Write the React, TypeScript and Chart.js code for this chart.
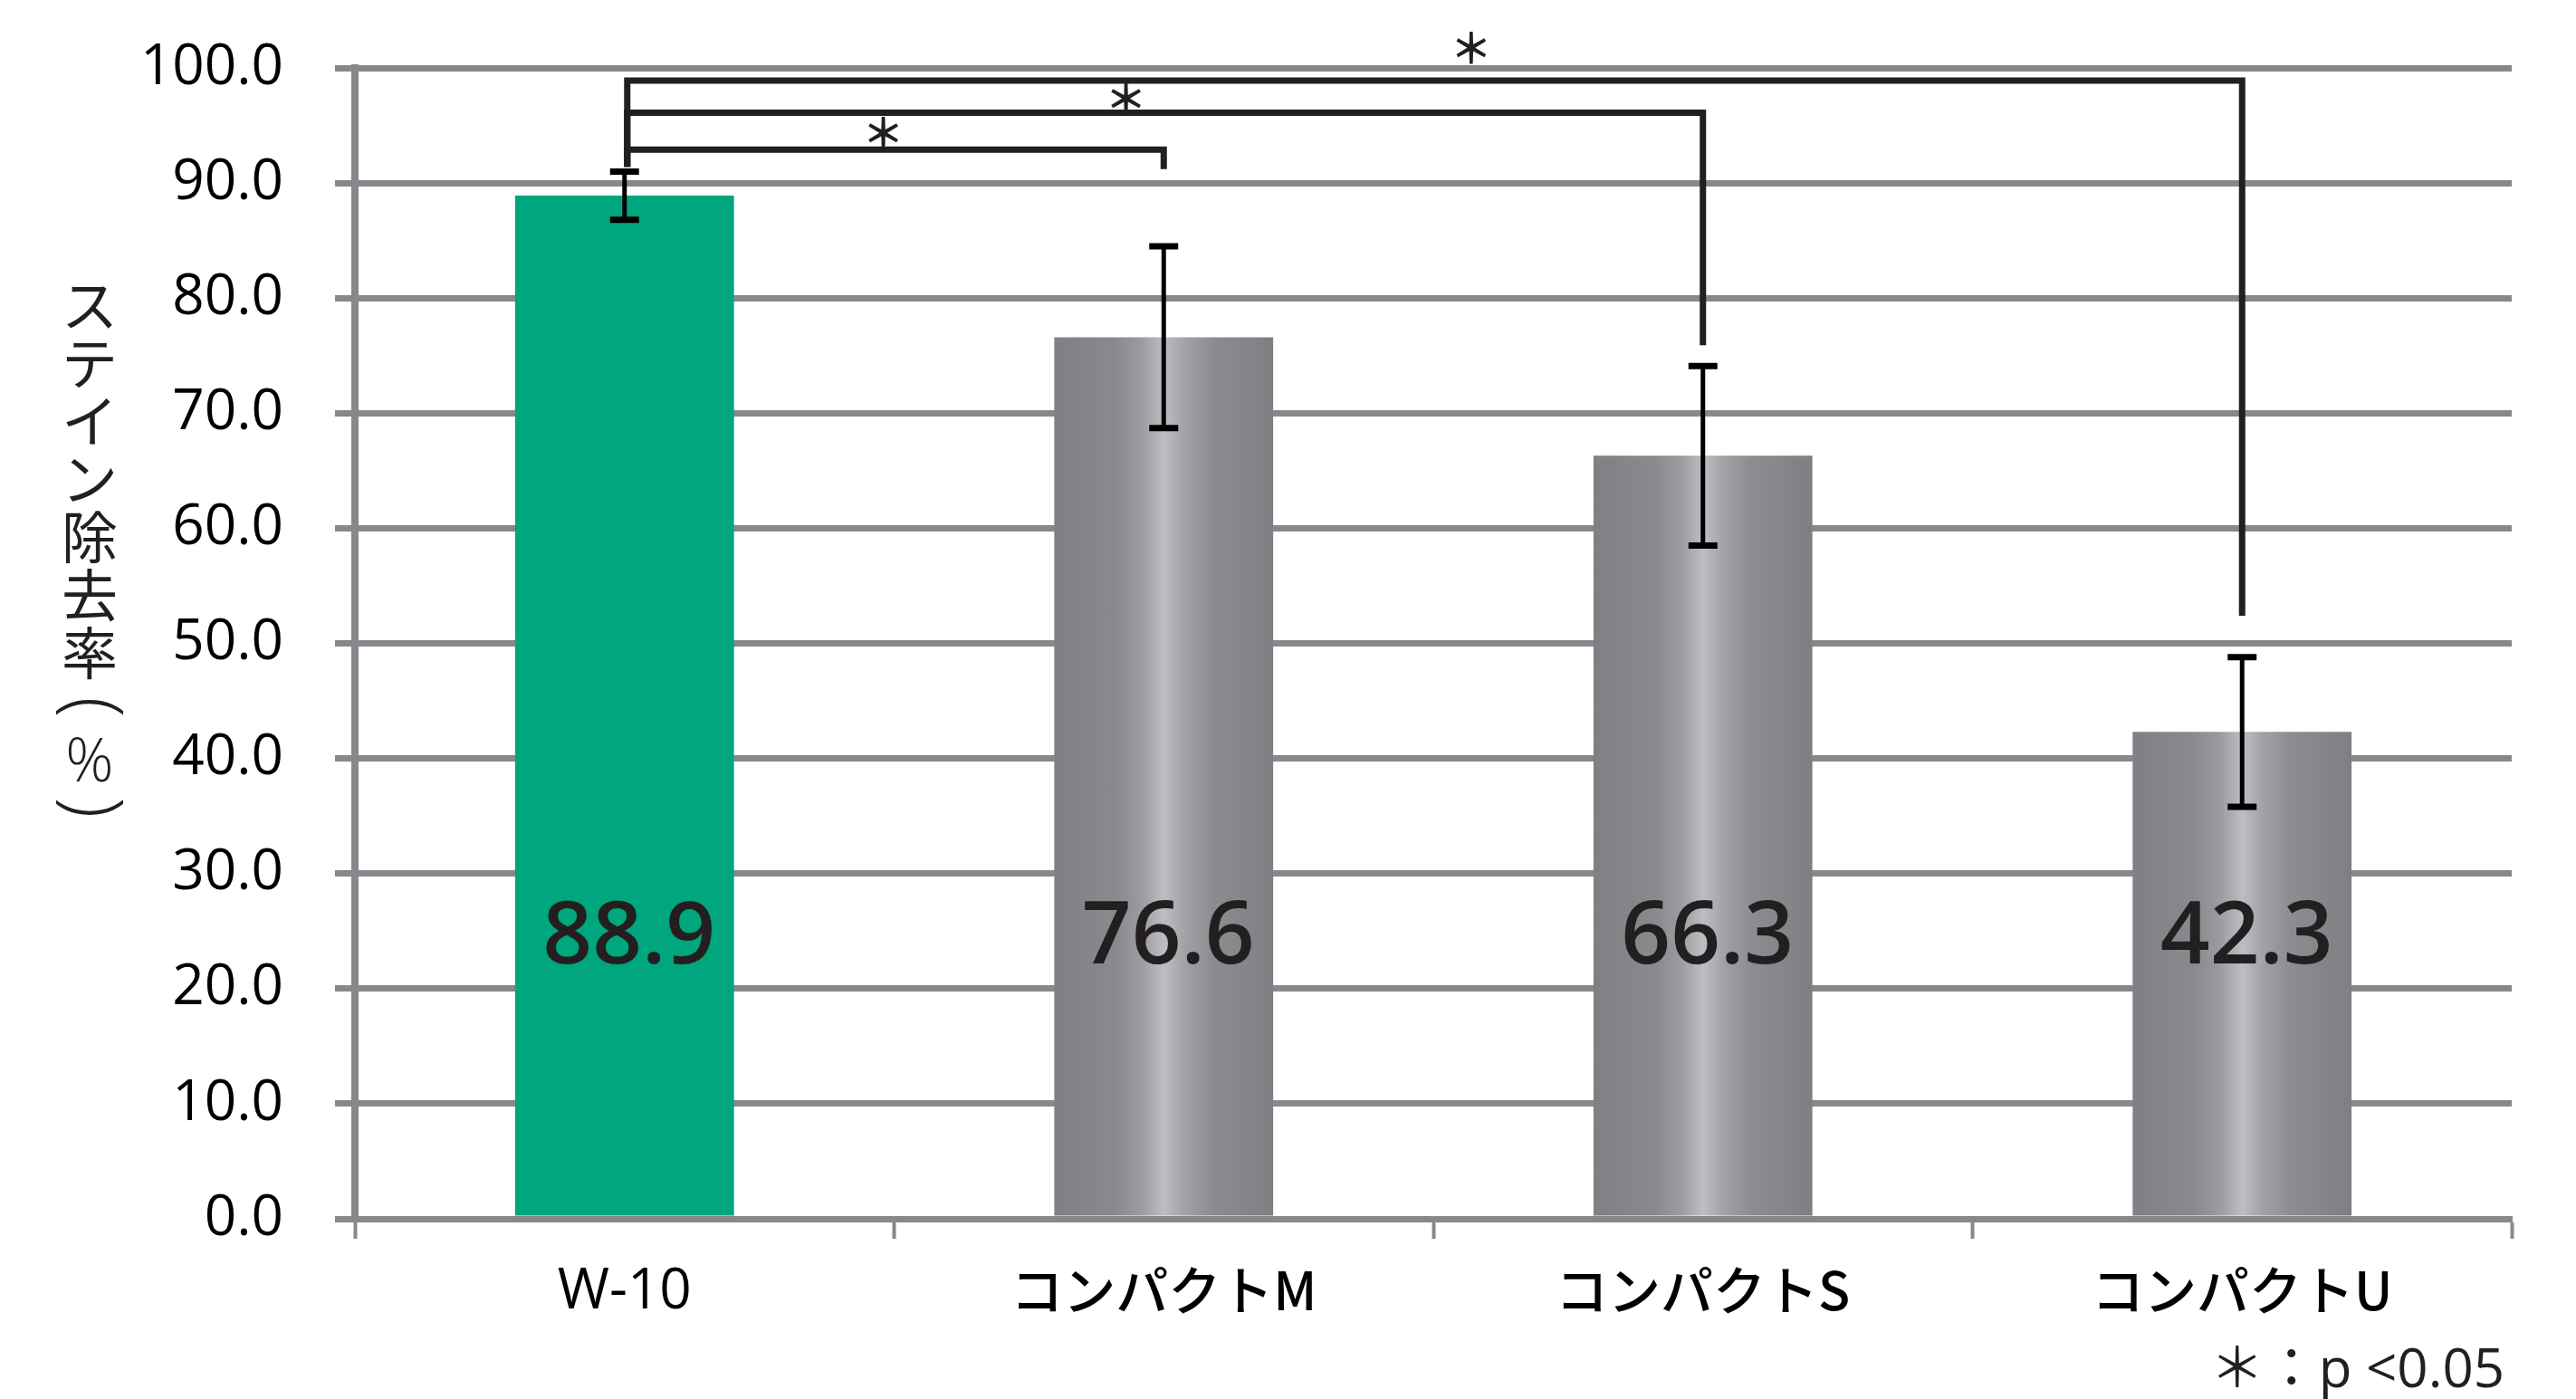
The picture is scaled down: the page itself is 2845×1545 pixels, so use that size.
import React, { useEffect, useRef } from "react";
import { Chart, registerables } from "chart.js";

Chart.register(...registerables);

// ---- data ----
const categories = ["W-10", "コンパクトM", "コンパクトS", "コンパクトU"];
const removalRate = [88.9, 76.6, 66.3, 42.3];
const errorSD = [2.1, 7.9, 7.8, 6.5];
const yMin = 0;
const yMax = 100;
const yStep = 10;
const yTitleChars = ["ス", "テ", "イ", "ン", "除", "去", "率", "(", "%", ")"];
// significance brackets (category index from -> to, bracket level, leg end value)
const bracketFrom = [0, 0, 0];
const bracketTo = [1, 2, 3];
const bracketLevel = [92.9, 96.1, 98.9];
const bracketLegEnd = [91.2, 75.9, 52.4];
const bracketStartEnd = 91.4;
const starAt = [0.48, 0.93, 1.57];
const starLevel = [94.4, 97.4, 101.8];
const starText = "＊";
const footnote = "＊：p <0.05";
const valueLabelLevel = 24.3;

// ---- styles ----
const GREEN = "#00a67d";
const GRID = "#87888c";
const INK = "#231f20";
const BAR_FRAC = 0.406;

const overlayPlugin = {
  id: "overlay",
  afterDatasetsDraw(chart: any) {
    const ctx = chart.ctx;
    const xs = chart.scales.x;
    const ys = chart.scales.y;
    const meta = chart.getDatasetMeta(0);
    ctx.save();
    // error bars
    ctx.strokeStyle = "#000";
    ctx.lineCap = "butt";
    meta.data.forEach((el: any, i: number) => {
      const x = el.x;
      const top = ys.getPixelForValue(removalRate[i] + errorSD[i]);
      const bot = ys.getPixelForValue(removalRate[i] - errorSD[i]);
      ctx.lineWidth = 5;
      ctx.beginPath();
      ctx.moveTo(x, top);
      ctx.lineTo(x, bot);
      ctx.stroke();
      ctx.lineWidth = 7;
      ctx.beginPath();
      ctx.moveTo(x - 16, top);
      ctx.lineTo(x + 16, top);
      ctx.moveTo(x - 16, bot);
      ctx.lineTo(x + 16, bot);
      ctx.stroke();
    });
    // value labels
    ctx.fillStyle = INK;
    ctx.font = "600 96px 'Open Sans', sans-serif";
    ctx.textAlign = "center";
    ctx.textBaseline = "middle";
    meta.data.forEach((el: any, i: number) => {
      ctx.fillText(removalRate[i].toFixed(1), el.x + 5, ys.getPixelForValue(valueLabelLevel));
    });
    // brackets
    ctx.strokeStyle = INK;
    ctx.lineWidth = 7;
    ctx.lineJoin = "miter";
    bracketFrom.forEach((f, k) => {
      const x1 = xs.getPixelForValue(f) + 3;
      const x2 = xs.getPixelForValue(bracketTo[k]);
      const yl = ys.getPixelForValue(bracketLevel[k]);
      ctx.beginPath();
      ctx.moveTo(x1, ys.getPixelForValue(bracketStartEnd));
      ctx.lineTo(x1, yl);
      ctx.lineTo(x2, yl);
      ctx.lineTo(x2, ys.getPixelForValue(bracketLegEnd[k]));
      ctx.stroke();
    });
    // stars
    ctx.fillStyle = INK;
    ctx.font = "bold 46px 'Noto Sans CJK JP', sans-serif";
    ctx.textAlign = "center";
    ctx.textBaseline = "middle";
    starAt.forEach((s, k) => {
      const x0 = xs.getPixelForValue(0);
      const x1 = xs.getPixelForValue(1);
      ctx.fillText(starText, x0 + (x1 - x0) * s, ys.getPixelForValue(starLevel[k]));
    });
    ctx.restore();
  },
  afterDraw(chart: any) {
    const ctx = chart.ctx;
    const area = chart.chartArea;
    ctx.save();
    ctx.fillStyle = "#231f20";
    ctx.textAlign = "center";
    ctx.textBaseline = "middle";
    const cx = 99;
    const pitch = 64;
    yTitleChars.forEach((c, i) => {
      let cy = area.top + 262 + pitch * i;
      if (c === "(" || c === ")") {
        cy = area.top + (c === "(" ? 706 : 817);
        ctx.save();
        ctx.translate(cx, cy);
        ctx.rotate(Math.PI / 2);
        ctx.font = "300 84px 'Open Sans', sans-serif";
        ctx.fillText(c, 0, 0);
        ctx.restore();
        return;
      }
      if (c === "%") {
        cy = area.top + 769;
        ctx.font = "300 66px 'Open Sans', 'Noto Sans CJK JP', sans-serif";
      } else {
        ctx.font = "400 62px 'Noto Sans CJK JP', sans-serif";
      }
      ctx.fillText(c, cx, cy);
    });
    // footnote
    ctx.textAlign = "right";
    ctx.textBaseline = "alphabetic";
    ctx.font = "60px 'Open Sans', 'Noto Sans CJK JP', sans-serif";
    ctx.fillText(footnote, area.right - 8, 1532);
    ctx.restore();
  },
};

export default function App() {
  const canvasRef = useRef<HTMLCanvasElement | null>(null);

  useEffect(() => {
    if (!canvasRef.current) return;
    const chart = new Chart(canvasRef.current, {
      type: "bar",
      data: {
        labels: categories,
        datasets: [
          {
            data: removalRate,
            borderWidth: 0,
            barPercentage: BAR_FRAC,
            categoryPercentage: 1,
            backgroundColor: (c: any) => {
              const i = c.dataIndex;
              if (i === 0) return GREEN;
              const chart = c.chart;
              const xs = chart.scales && chart.scales.x;
              if (i === undefined || !xs) return "#8a8b8f";
              const cx = xs.getPixelForValue(i);
              const half = ((xs.width / categories.length) * BAR_FRAC) / 2;
              const g = chart.ctx.createLinearGradient(cx - half, 0, cx + half, 0);
              g.addColorStop(0, "#7f8084");
              g.addColorStop(0.28, "#898a8e");
              g.addColorStop(0.4, "#9b9ca0");
              g.addColorStop(0.5, "#bcbec3");
              g.addColorStop(0.6, "#a0a1a5");
              g.addColorStop(0.72, "#8c8d91");
              g.addColorStop(1, "#7e7f83");
              return g;
            },
          },
        ],
      },
      options: {
        animation: false,
        responsive: true,
        maintainAspectRatio: false,
        devicePixelRatio: 1,
        layout: { padding: { left: 0, right: 71, top: 75, bottom: 0 } },
        plugins: {
          legend: { display: false },
          tooltip: { enabled: false },
          title: { display: false },
        },
        scales: {
          x: {
            type: "category",
            offset: true,
            grid: {
              display: true,
              offset: true,
              drawOnChartArea: false,
              drawTicks: true,
              tickLength: 22,
              tickWidth: 4,
              color: GRID,
            },
            border: { display: true, color: GRID, width: 7 },
            ticks: {
              color: "#000",
              padding: 22,
              maxRotation: 0,
              autoSkip: false,
              font: (c: any) => ({
                family: c.index === 0 ? "'Open Sans', sans-serif" : "'Noto Sans CJK JP', sans-serif",
                size: c.index === 0 ? 62 : 58,
                weight: c.index === 0 ? "400" : "500",
              }),
            },
            afterFit: (s: any) => {
              s.height = 199;
              s.paddingLeft = 0;
              s.paddingRight = 0;
            },
          },
          y: {
            min: yMin,
            max: yMax,
            grid: {
              color: GRID,
              lineWidth: 7,
              drawTicks: true,
              tickLength: 22,
              tickWidth: 7,
            },
            border: { display: true, color: GRID, width: 8 },
            ticks: {
              stepSize: yStep,
              color: "#000",
              padding: 57,
              font: { family: "'Open Sans', sans-serif", size: 62 },
              callback: (v: any) => Number(v).toFixed(1),
            },
            afterFit: (s: any) => {
              s.width = 392;
              s.paddingTop = 30;
              s.paddingBottom = 30;
            },
          },
        },
      },
      plugins: [overlayPlugin],
    } as any);
    return () => chart.destroy();
  }, []);

  return (
    <div style={{ position: "absolute", left: 0, top: 0, width: 2845, height: 1545, background: "#fff" }}>
      <canvas ref={canvasRef} />
    </div>
  );
}
